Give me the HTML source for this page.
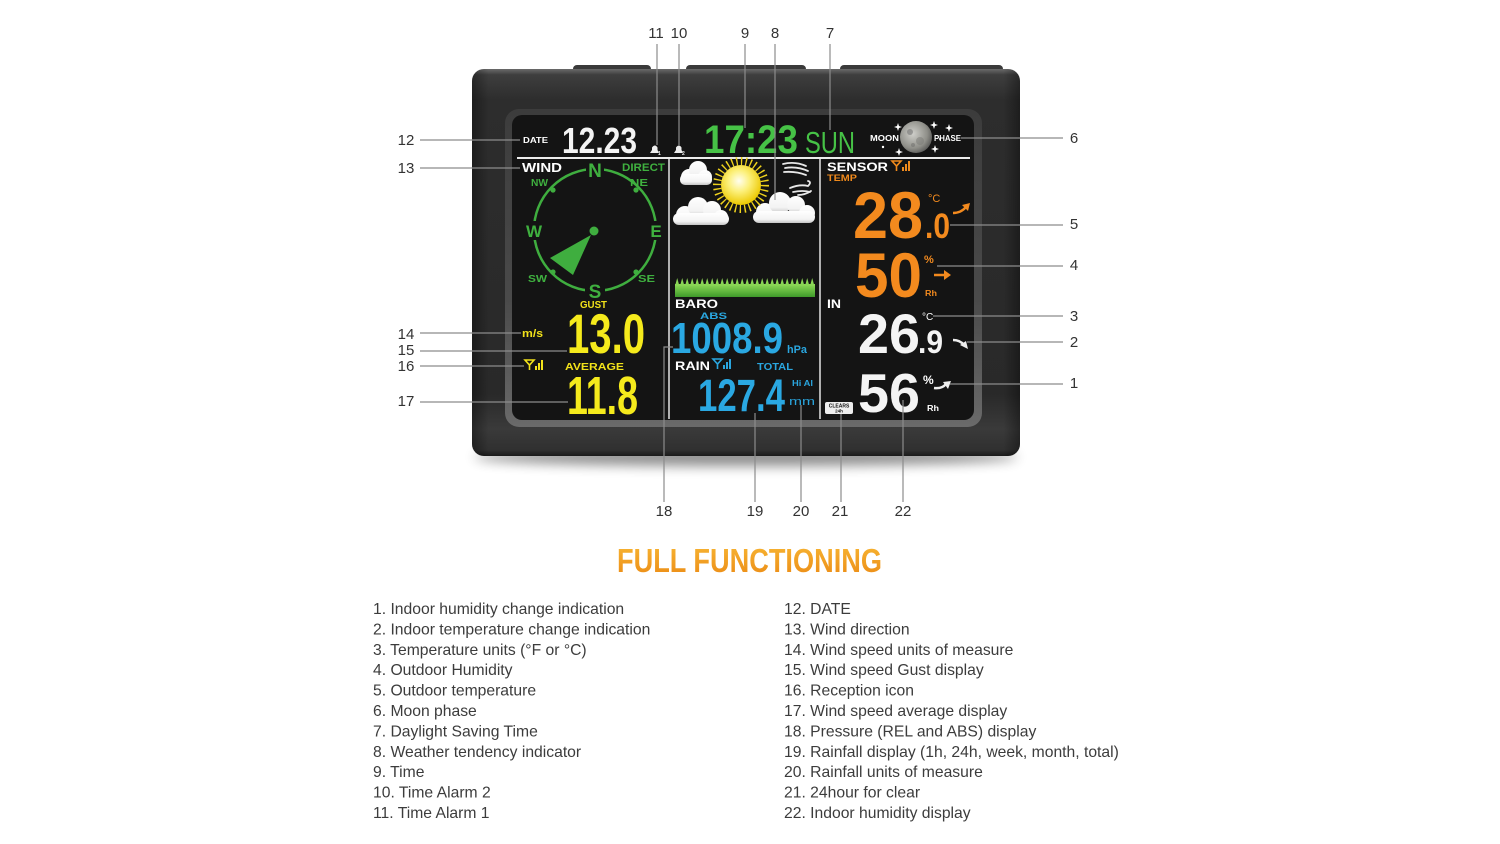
<!DOCTYPE html>
<html><head><meta charset="utf-8">
<style>
html,body{margin:0;padding:0;background:#fff;width:1500px;height:844px;overflow:hidden}
svg{display:block}
</style></head><body>
<svg width="1500" height="844" viewBox="0 0 1500 844" xmlns="http://www.w3.org/2000/svg" font-family="'Liberation Sans', sans-serif">
<defs>
<linearGradient id="bodyg" x1="0" y1="0" x2="0" y2="1">
 <stop offset="0" stop-color="#6a6a6a"/>
 <stop offset="0.015" stop-color="#3e3e3e"/>
 <stop offset="0.08" stop-color="#2d2d2d"/>
 <stop offset="0.84" stop-color="#292929"/>
 <stop offset="0.93" stop-color="#3a3a3a"/>
 <stop offset="0.985" stop-color="#303030"/>
 <stop offset="1" stop-color="#1a1a1a"/>
</linearGradient>
<linearGradient id="sideg" x1="0" y1="0" x2="1" y2="0">
 <stop offset="0" stop-color="#000" stop-opacity="0.35"/>
 <stop offset="0.03" stop-color="#000" stop-opacity="0"/>
 <stop offset="0.97" stop-color="#000" stop-opacity="0"/>
 <stop offset="1" stop-color="#000" stop-opacity="0.35"/>
</linearGradient>
<linearGradient id="bezg" x1="0" y1="0" x2="0" y2="1">
 <stop offset="0" stop-color="#3c3c3c"/>
 <stop offset="0.6" stop-color="#4a4a4a"/>
 <stop offset="1" stop-color="#6a6a6a"/>
</linearGradient>
<radialGradient id="sung" cx="0.45" cy="0.4" r="0.6">
 <stop offset="0" stop-color="#fffef0"/>
 <stop offset="0.45" stop-color="#fcf07a"/>
 <stop offset="1" stop-color="#ecc800"/>
</radialGradient>
<radialGradient id="moong" cx="0.4" cy="0.4" r="0.65">
 <stop offset="0" stop-color="#cfcfca"/>
 <stop offset="0.7" stop-color="#8e8e88"/>
 <stop offset="1" stop-color="#5a5a58"/>
</radialGradient>
<linearGradient id="cloudg" x1="0" y1="0" x2="0" y2="1">
 <stop offset="0" stop-color="#ffffff"/>
 <stop offset="0.7" stop-color="#f3f3f3"/>
 <stop offset="1" stop-color="#c4c4c4"/>
</linearGradient>
<linearGradient id="grassg" x1="0" y1="0" x2="0" y2="1">
 <stop offset="0" stop-color="#8fdc58"/>
 <stop offset="1" stop-color="#3f9a2a"/>
</linearGradient>
<pattern id="blades" width="5" height="8" patternUnits="userSpaceOnUse" x="675" y="278">
 <path d="M0 8 L2.2 0 L4.4 8Z" fill="#8ad655"/>
</pattern>
<linearGradient id="titleg" x1="0" y1="0" x2="0" y2="1">
 <stop offset="0" stop-color="#f8b735"/>
 <stop offset="1" stop-color="#eb8a14"/>
</linearGradient>
<filter id="blur" x="-20%" y="-200%" width="140%" height="500%"><feGaussianBlur stdDeviation="6"/></filter>
</defs>

<!-- shadow -->
<ellipse cx="746" cy="457" rx="272" ry="9" fill="#000" opacity="0.45" filter="url(#blur)"/>

<!-- top bumps -->
<rect x="573" y="65" width="78" height="12" rx="4" fill="#3a3a3a"/>
<rect x="686" y="65" width="120" height="12" rx="4" fill="#3a3a3a"/>
<rect x="840" y="65" width="163" height="12" rx="4" fill="#3a3a3a"/>

<!-- body -->
<rect x="472" y="69" width="548" height="387" rx="12" fill="url(#bodyg)"/>
<rect x="472" y="69" width="548" height="387" rx="12" fill="url(#sideg)"/>

<!-- bezel & screen -->
<rect x="505" y="109" width="477" height="318" rx="14" fill="url(#bezg)"/>
<rect x="512" y="115" width="462" height="305" rx="10" fill="#141414"/>

<!-- dividers -->
<line x1="517" y1="158" x2="970" y2="158" stroke="#ececec" stroke-width="2"/>
<line x1="669" y1="159" x2="669" y2="419" stroke="#d8d8d8" stroke-width="1.6"/>
<line x1="820" y1="159" x2="820" y2="419" stroke="#d8d8d8" stroke-width="1.6"/>

<!-- top row -->
<text x="523" y="143" font-size="8" font-weight="bold" fill="#fff" textLength="25" lengthAdjust="spacingAndGlyphs">DATE</text>
<text x="562" y="153" font-size="36" font-weight="bold" fill="#f4f4f4" textLength="75" lengthAdjust="spacingAndGlyphs">12.23</text>
<!-- alarm bells -->
<path d="M650 153 L659 153 L657.5 150 L657.5 147.5 Q655 143.5 652 147.5 L652 150 Z" fill="#eee"/>
<text x="658" y="155" font-size="5" font-weight="bold" fill="#eee">1</text>
<path d="M674 153 L683 153 L681.5 150 L681.5 147.5 Q679 143.5 676 147.5 L676 150 Z" fill="#eee"/>
<text x="682" y="155" font-size="5" font-weight="bold" fill="#eee">2</text>
<text x="704" y="153" font-size="40" font-weight="bold" fill="#46c246" textLength="94" lengthAdjust="spacingAndGlyphs">17:23</text>
<text x="805" y="153" font-size="31" fill="#46c246" textLength="50" lengthAdjust="spacingAndGlyphs">SUN</text>
<text x="870" y="141" font-size="8.5" font-weight="bold" fill="#fff" textLength="29" lengthAdjust="spacingAndGlyphs">MOON</text>
<circle cx="916" cy="137" r="16" fill="url(#moong)"/>
<circle cx="910" cy="132" r="3" fill="#777" opacity="0.6"/>
<circle cx="920" cy="141" r="4" fill="#7a7a76" opacity="0.5"/>
<circle cx="913" cy="145" r="2" fill="#6c6c6a" opacity="0.5"/>
<text x="934" y="141" font-size="8.5" font-weight="bold" fill="#fff" textLength="27" lengthAdjust="spacingAndGlyphs">PHASE</text>
<g fill="#fff">
 <path d="M898 123 L899 126 L902 127 L899 128 L898 131 L897 128 L894 127 L897 126Z"/>
 <path d="M934 121 L935 124 L938 125 L935 126 L934 129 L933 126 L930 125 L933 124Z"/>
 <path d="M949 124 L950 127 L953 128 L950 129 L949 132 L948 129 L945 128 L948 127Z"/>
 <path d="M935 145 L936 148 L939 149 L936 150 L935 153 L934 150 L931 149 L934 148Z"/>
 <path d="M899 148 L900 151 L903 152 L900 153 L899 156 L898 153 L895 152 L898 151Z"/>
 <circle cx="883" cy="147" r="1.2"/>
 <circle cx="940" cy="139" r="1"/>
</g>

<!-- WIND column -->
<text x="522" y="172" font-size="13" font-weight="bold" fill="#fff" textLength="40" lengthAdjust="spacingAndGlyphs">WIND</text>
<text x="622" y="171" font-size="11" font-weight="bold" fill="#3fb03f" textLength="43" lengthAdjust="spacingAndGlyphs">DIRECT</text>
<circle cx="595" cy="230" r="61" fill="none" stroke="#3fae3f" stroke-width="2.5"/>
<rect x="586" y="160" width="18" height="20" fill="#141414"/>
<rect x="585" y="282" width="20" height="18" fill="#141414"/>
<rect x="525" y="221" width="18" height="19" fill="#141414"/>
<rect x="648" y="221" width="16" height="19" fill="#141414"/>
<text x="595" y="177" font-size="19" font-weight="bold" fill="#3fb03f" text-anchor="middle">N</text>
<text x="595" y="298" font-size="19" font-weight="bold" fill="#3fb03f" text-anchor="middle">S</text>
<text x="534" y="237" font-size="17" font-weight="bold" fill="#3fb03f" text-anchor="middle">W</text>
<text x="656" y="237" font-size="17" font-weight="bold" fill="#3fb03f" text-anchor="middle">E</text>
<text x="531" y="186" font-size="10" font-weight="bold" fill="#3fb03f" textLength="17" lengthAdjust="spacingAndGlyphs">NW</text>
<text x="630" y="186" font-size="10" font-weight="bold" fill="#3fb03f" textLength="18" lengthAdjust="spacingAndGlyphs">NE</text>
<text x="528" y="282" font-size="10" font-weight="bold" fill="#3fb03f" textLength="19" lengthAdjust="spacingAndGlyphs">SW</text>
<text x="638" y="282" font-size="10" font-weight="bold" fill="#3fb03f" textLength="17" lengthAdjust="spacingAndGlyphs">SE</text>
<g fill="#3fae3f">
 <circle cx="553" cy="190" r="2.6"/><circle cx="636" cy="190" r="2.6"/>
 <circle cx="553" cy="272" r="2.6"/><circle cx="636" cy="272" r="2.6"/>
 <circle cx="594" cy="231" r="4.5"/>
 <polygon points="591,235 550,258 573,275"/>
</g>
<text x="580" y="308" font-size="10" font-weight="bold" fill="#f2e21a" textLength="27" lengthAdjust="spacingAndGlyphs">GUST</text>
<text x="522" y="337" font-size="11" font-weight="bold" fill="#f2e21a" textLength="21" lengthAdjust="spacingAndGlyphs">m/s</text>
<text x="567" y="353" font-size="56" font-weight="bold" fill="#f5ea1c" textLength="78" lengthAdjust="spacingAndGlyphs">13.0</text>
<g stroke="#f2e21a" stroke-width="1.6" fill="none">
 <path d="M525 360 L534 360 L529.5 365 Z"/><line x1="529.5" y1="365" x2="529.5" y2="370"/>
</g>
<g fill="#f2e21a"><rect x="535" y="366" width="2" height="4"/><rect x="538" y="363" width="2" height="7"/><rect x="541" y="360" width="2" height="10"/></g>
<text x="565" y="370" font-size="10" font-weight="bold" fill="#f2e21a" textLength="59" lengthAdjust="spacingAndGlyphs">AVERAGE</text>
<text x="567" y="414" font-size="54" font-weight="bold" fill="#f5ea1c" textLength="71" lengthAdjust="spacingAndGlyphs">11.8</text>

<!-- middle column -->
<g fill="url(#cloudg)">
 <circle cx="689" cy="177" r="8"/><circle cx="698" cy="170" r="9"/><circle cx="705" cy="177" r="7"/>
 <rect x="680" y="174" width="32" height="11" rx="5"/>
 <circle cx="685" cy="215" r="9"/><circle cx="698" cy="207" r="10"/><circle cx="712" cy="210" r="9"/><circle cx="721" cy="217" r="7"/>
 <rect x="673" y="213" width="56" height="12" rx="6"/>
 <circle cx="765" cy="212" r="9"/><circle cx="780" cy="203" r="11"/><circle cx="796" cy="205" r="9"/><circle cx="807" cy="213" r="8"/>
 <rect x="753" y="211" width="62" height="12" rx="6"/>
</g>
<circle cx="741" cy="185" r="24" fill="none" stroke="#efd21c" stroke-width="8" stroke-dasharray="1.4 3.3"/>
<circle cx="741" cy="185" r="20" fill="url(#sung)"/>
<g stroke="#e8e8e8" stroke-width="1.8" fill="none" stroke-linecap="round">
 <path d="M783 164 Q795 161 806 166"/>
 <path d="M785 168 Q797 166 808 171"/>
 <path d="M784 172 Q796 171 806 175"/>
 <path d="M790 188 Q800 184 808 186 Q812 182 808 181"/>
 <path d="M793 192 Q803 190 810 192"/>
 <path d="M798 195 Q805 195 811 191"/>
</g>
<line x1="775" y1="159" x2="775" y2="200" stroke="#999" stroke-width="1.2"/>
<rect x="675" y="284" width="140" height="13" fill="url(#grassg)"/>
<rect x="675" y="278" width="140" height="8" fill="url(#blades)"/>

<text x="675" y="308" font-size="12" font-weight="bold" fill="#fff" textLength="43" lengthAdjust="spacingAndGlyphs">BARO</text>
<text x="700" y="319" font-size="9" font-weight="bold" fill="#2aa6df" textLength="27" lengthAdjust="spacingAndGlyphs">ABS</text>
<text x="671" y="353" font-size="44" font-weight="bold" fill="#2aa8e2" textLength="112" lengthAdjust="spacingAndGlyphs">1008.9</text>
<text x="787" y="353" font-size="11" font-weight="bold" fill="#2aa6df" textLength="20" lengthAdjust="spacingAndGlyphs">hPa</text>
<text x="675" y="370" font-size="12" font-weight="bold" fill="#fff" textLength="35" lengthAdjust="spacingAndGlyphs">RAIN</text>
<g stroke="#2aa6df" stroke-width="1.6" fill="none">
 <path d="M713 359 L722 359 L717.5 364 Z"/><line x1="717.5" y1="364" x2="717.5" y2="369"/>
</g>
<g fill="#2aa6df"><rect x="723" y="365" width="2" height="4"/><rect x="726" y="362" width="2" height="7"/><rect x="729" y="359" width="2" height="10"/></g>
<text x="757" y="370" font-size="10" font-weight="bold" fill="#2aa6df" textLength="36" lengthAdjust="spacingAndGlyphs">TOTAL</text>
<text x="698" y="411" font-size="45" font-weight="bold" fill="#2aa8e2" textLength="87" lengthAdjust="spacingAndGlyphs">127.4</text>
<text x="792" y="386" font-size="8" font-weight="bold" fill="#2aa6df" textLength="21" lengthAdjust="spacingAndGlyphs">Hi Al</text>
<text x="789" y="405" font-size="11" fill="#2aa6df" textLength="26" lengthAdjust="spacingAndGlyphs">mm</text>

<!-- right column -->
<text x="827" y="171" font-size="12" font-weight="bold" fill="#fff" textLength="61" lengthAdjust="spacingAndGlyphs">SENSOR</text>
<g stroke="#f08a1c" stroke-width="1.6" fill="none">
 <path d="M892 161 L901 161 L896.5 166 Z"/><line x1="896.5" y1="166" x2="896.5" y2="171"/>
</g>
<g fill="#f08a1c"><rect x="902" y="167" width="2" height="4"/><rect x="905" y="164" width="2" height="7"/><rect x="908" y="161" width="2" height="10"/></g>
<text x="827" y="181" font-size="9" font-weight="bold" fill="#f08a1c" textLength="30" lengthAdjust="spacingAndGlyphs">TEMP</text>
<text x="853" y="238" font-size="66" font-weight="bold" fill="#f38a1e" textLength="70" lengthAdjust="spacingAndGlyphs">28</text>
<text x="925" y="238" font-size="35" font-weight="bold" fill="#f38a1e" textLength="25" lengthAdjust="spacingAndGlyphs">.0</text>
<text x="928" y="202" font-size="11" fill="#f38a1e">°C</text>
<path d="M953 213 Q961 213 966 207" stroke="#f38a1e" stroke-width="2.5" fill="none"/>
<polygon points="962,205 970,203 968,211" fill="#f38a1e"/>
<text x="855" y="297" font-size="63" font-weight="bold" fill="#f38a1e" textLength="67" lengthAdjust="spacingAndGlyphs">50</text>
<text x="924" y="263" font-size="11" font-weight="bold" fill="#f38a1e">%</text>
<line x1="934" y1="275" x2="945" y2="275" stroke="#f38a1e" stroke-width="2.5"/>
<polygon points="944,270 951,275 944,280" fill="#f38a1e"/>
<text x="925" y="296" font-size="8" font-weight="bold" fill="#f38a1e" textLength="12" lengthAdjust="spacingAndGlyphs">Rh</text>
<text x="827" y="308" font-size="12" font-weight="bold" fill="#fff" textLength="14" lengthAdjust="spacingAndGlyphs">IN</text>
<text x="858" y="353" font-size="56" font-weight="bold" fill="#f4f4f4" textLength="62" lengthAdjust="spacingAndGlyphs">26</text>
<text x="918" y="353" font-size="32" font-weight="bold" fill="#f4f4f4" textLength="25" lengthAdjust="spacingAndGlyphs">.9</text>
<text x="922" y="320" font-size="10" fill="#fff">°C</text>
<path d="M953 340 Q960 340 964 345" stroke="#eee" stroke-width="2.5" fill="none"/>
<polygon points="960,345 968,349 966,341" fill="#eee"/>
<text x="858" y="412" font-size="55" font-weight="bold" fill="#f4f4f4" textLength="62" lengthAdjust="spacingAndGlyphs">56</text>
<text x="923" y="384" font-size="12" font-weight="bold" fill="#fff">%</text>
<path d="M934 388 Q942 389 946 384" stroke="#eee" stroke-width="2.5" fill="none"/>
<polygon points="943,382 951,381 948,389" fill="#eee"/>
<text x="927" y="411" font-size="8" font-weight="bold" fill="#fff" textLength="12" lengthAdjust="spacingAndGlyphs">Rh</text>
<rect x="825" y="402" width="28" height="12" rx="2" fill="#eee"/>
<text x="839" y="407.5" font-size="5" font-weight="bold" fill="#111" text-anchor="middle">CLEARS</text>
<text x="839" y="412.5" font-size="4.5" font-weight="bold" fill="#111" text-anchor="middle">24h</text>

<!-- leader lines -->
<g stroke="#8c8c8c" stroke-width="1.2" fill="none">
 <line x1="420" y1="140" x2="520" y2="140"/>
 <line x1="420" y1="168" x2="520" y2="168"/>
 <line x1="420" y1="333" x2="521" y2="333"/>
 <line x1="420" y1="351" x2="567" y2="351"/>
 <line x1="420" y1="366" x2="524" y2="366"/>
 <line x1="420" y1="402" x2="568" y2="402"/>
 <line x1="961" y1="138" x2="1063" y2="138"/>
 <line x1="950" y1="225" x2="1063" y2="225"/>
 <line x1="937" y1="266" x2="1063" y2="266"/>
 <line x1="933" y1="316" x2="1063" y2="316"/>
 <line x1="967" y1="342" x2="1063" y2="342"/>
 <line x1="950" y1="384" x2="1063" y2="384"/>
 <line x1="657" y1="44" x2="657" y2="145"/>
 <line x1="679" y1="44" x2="679" y2="145"/>
 <line x1="745" y1="44" x2="745" y2="128"/>
 <line x1="775" y1="44" x2="775" y2="159"/>
 <line x1="830" y1="44" x2="830" y2="130"/>
 <polyline points="673,347 664,347 664,502"/>
 <line x1="755" y1="413" x2="755" y2="502"/>
 <line x1="801" y1="405" x2="801" y2="502"/>
 <line x1="841" y1="414" x2="841" y2="502"/>
 <line x1="903" y1="400" x2="903" y2="502"/>
</g>

<!-- numeric labels -->
<g font-size="15" fill="#333" text-anchor="middle">
 <text x="406" y="145">12</text>
 <text x="406" y="173">13</text>
 <text x="406" y="339">14</text>
 <text x="406" y="355">15</text>
 <text x="406" y="371">16</text>
 <text x="406" y="406">17</text>
 <text x="1074" y="143">6</text>
 <text x="1074" y="229">5</text>
 <text x="1074" y="270">4</text>
 <text x="1074" y="321">3</text>
 <text x="1074" y="347">2</text>
 <text x="1074" y="388">1</text>
 <text x="656" y="38">11</text>
 <text x="679" y="38">10</text>
 <text x="745" y="38">9</text>
 <text x="775" y="38">8</text>
 <text x="830" y="38">7</text>
 <text x="664" y="516">18</text>
 <text x="755" y="516">19</text>
 <text x="801" y="516">20</text>
 <text x="840" y="516">21</text>
 <text x="903" y="516">22</text>
</g>

<!-- title -->
<text x="617" y="572" font-size="33" font-weight="bold" fill="url(#titleg)" textLength="265" lengthAdjust="spacingAndGlyphs">FULL FUNCTIONING</text>

<!-- lists -->
<g font-size="15.7" fill="#3c3c3c">
 <text x="373" y="614">1. Indoor humidity change indication</text>
 <text x="373" y="634.4">2. Indoor temperature change indication</text>
 <text x="373" y="654.8">3. Temperature units (°F or °C)</text>
 <text x="373" y="675.2">4. Outdoor Humidity</text>
 <text x="373" y="695.6">5. Outdoor temperature</text>
 <text x="373" y="716">6. Moon phase</text>
 <text x="373" y="736.4">7. Daylight Saving Time</text>
 <text x="373" y="756.8">8. Weather tendency indicator</text>
 <text x="373" y="777.2">9. Time</text>
 <text x="373" y="797.6">10. Time Alarm 2</text>
 <text x="373" y="818">11. Time Alarm 1</text>
 <text x="784" y="614">12. DATE</text>
 <text x="784" y="634.4">13. Wind direction</text>
 <text x="784" y="654.8">14. Wind speed units of measure</text>
 <text x="784" y="675.2">15. Wind speed Gust display</text>
 <text x="784" y="695.6">16. Reception icon</text>
 <text x="784" y="716">17. Wind speed average display</text>
 <text x="784" y="736.4">18. Pressure (REL and ABS) display</text>
 <text x="784" y="756.8">19. Rainfall display (1h, 24h, week, month, total)</text>
 <text x="784" y="777.2">20. Rainfall units of measure</text>
 <text x="784" y="797.6">21. 24hour for clear</text>
 <text x="784" y="818">22. Indoor humidity display</text>
</g>
</svg>
</body></html>
